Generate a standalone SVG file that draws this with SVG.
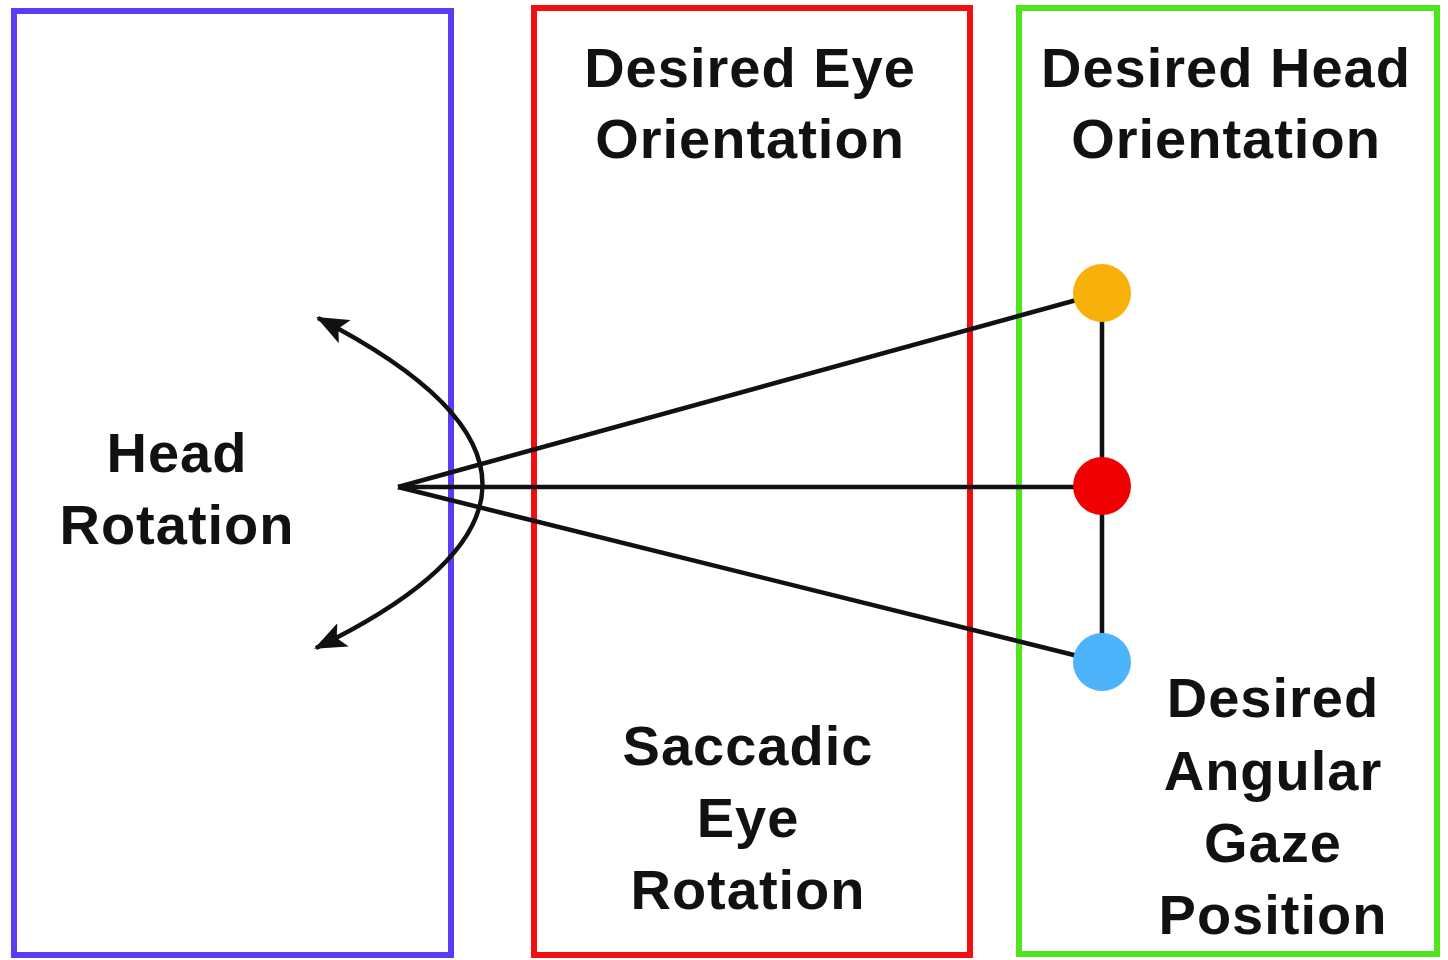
<svg xmlns="http://www.w3.org/2000/svg" width="1448" height="960" viewBox="0 0 1448 960">
<style>
.box{fill:none;stroke-width:6}
.t{font-family:"Liberation Sans",Arial,sans-serif;font-weight:bold;font-size:56px;letter-spacing:1px;fill:#111;text-anchor:middle}
.ln{stroke:#111;stroke-width:4.5;fill:none}
</style>
<defs>
<marker id="ah2" viewBox="0 0 32 26" refX="30" refY="13" markerWidth="32" markerHeight="26" markerUnits="userSpaceOnUse" orient="auto-start-reverse">
<path d="M0,0 L32,13 L0,26 L7,13 z" fill="#111"/>
</marker>
</defs>
<rect width="1448" height="960" fill="#fff"/>
<g id="head-rotation">
<rect class="box" x="14" y="11" width="437" height="944" stroke="#5b3cf5"/>
<text class="t" x="177" y="472">Head</text>
<text class="t" x="177" y="544">Rotation</text>
</g>
<g id="saccadic">
<rect class="box" x="534" y="8" width="436" height="947" stroke="#f01010"/>
<text class="t" x="750" y="87">Desired Eye</text>
<text class="t" x="750" y="158">Orientation</text>
<text class="t" x="748" y="765">Saccadic</text>
<text class="t" x="748" y="837">Eye</text>
<text class="t" x="748" y="909">Rotation</text>
</g>
<g id="desired-head">
<rect class="box" x="1019" y="8" width="418" height="946" stroke="#4ee61a"/>
<text class="t" x="1226" y="87">Desired Head</text>
<text class="t" x="1226" y="158">Orientation</text>
<text class="t" x="1273" y="717">Desired</text>
<text class="t" x="1273" y="790">Angular</text>
<text class="t" x="1273" y="862">Gaze</text>
<text class="t" x="1273" y="934">Position</text>
</g>
<g id="connectors">
<line class="ln" x1="1102" y1="293" x2="1102" y2="662"/>
<line class="ln" x1="398" y1="487" x2="1102" y2="293"/>
<line class="ln" x1="398" y1="487" x2="1102" y2="487"/>
<line class="ln" x1="398" y1="487" x2="1102" y2="662"/>
<path class="ln" d="M318,318 Q648,487 316,648" marker-start="url(#ah2)" marker-end="url(#ah2)"/>
</g>
<g id="dot-top"><circle cx="1102" cy="293" r="29" fill="#f8b10a"/></g>
<g id="dot-mid"><circle cx="1102" cy="486" r="29" fill="#f00000"/></g>
<g id="dot-bot"><circle cx="1102" cy="662" r="29" fill="#4db3fb"/></g>
</svg>
